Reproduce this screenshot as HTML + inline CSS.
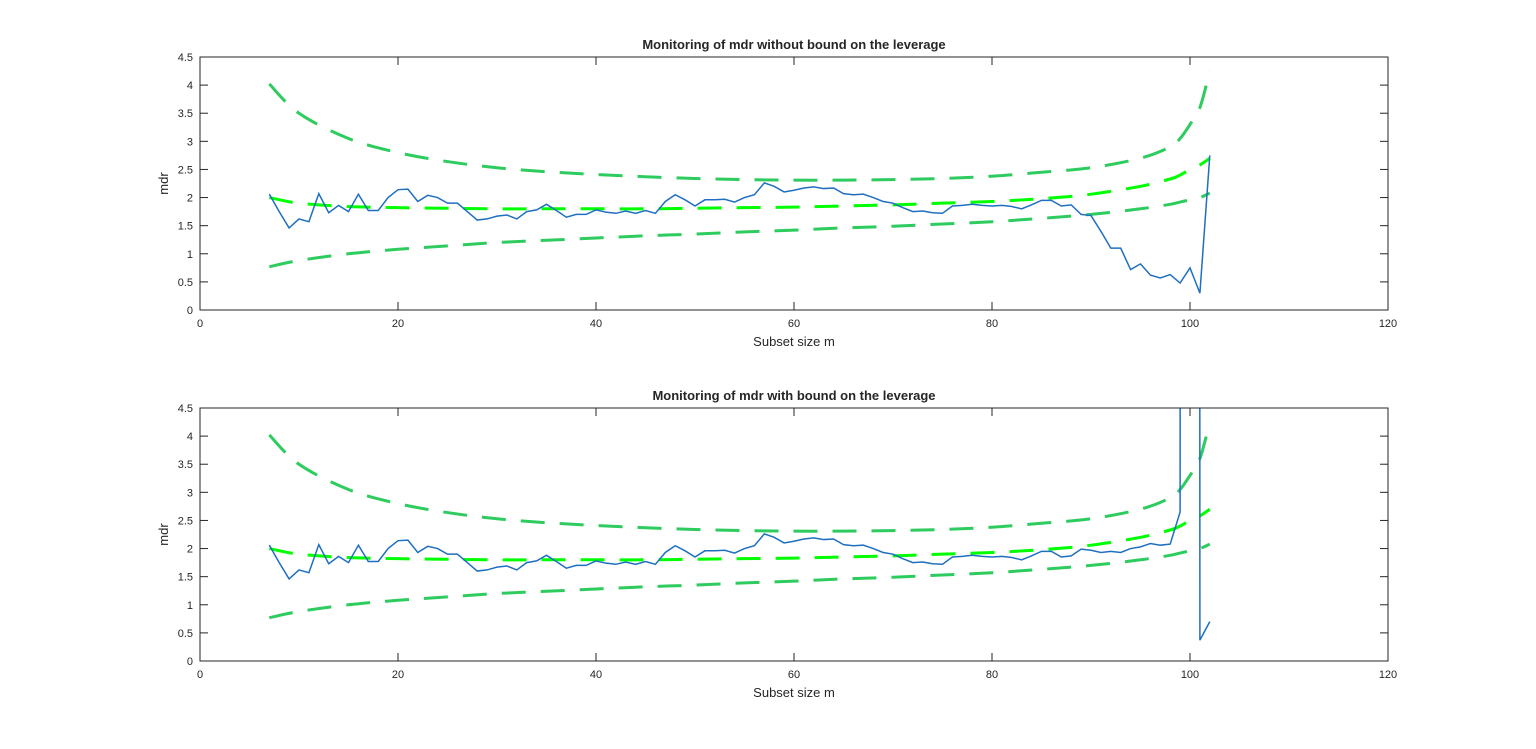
<!DOCTYPE html>
<html><head><meta charset="utf-8"><style>
body{margin:0;background:#fff;font-family:"Liberation Sans",Arial,sans-serif}
svg text{font-family:"Liberation Sans",Arial,sans-serif}
</style></head><body>
<svg id="fig" width="1536" height="744" xmlns="http://www.w3.org/2000/svg"></svg>
<script>
// Data
const mVals = [7,8,9,10,11,12,13,14,15,16,17,18,19,20,21,22,23,24,25,26,27,28,29,30,31,32,33,34,35,36,37,38,39,40,41,42,43,44,45,46,47,48,49,50,51,52,53,54,55,56,57,58,59,60,61,62,63,64,65,66,67,68,69,70,71,72,73,74,75,76,77,78,79,80,81,82,83,84,85,86,87,88,89,90,91,92,93,94,95,96,97,98,99,100,101,102];
const mdrTop = [2.06,1.75,1.46,1.62,1.57,2.07,1.73,1.86,1.75,2.06,1.77,1.77,2.0,2.14,2.15,1.93,2.04,2.0,1.9,1.9,1.75,1.6,1.62,1.67,1.69,1.62,1.75,1.78,1.88,1.77,1.65,1.7,1.7,1.78,1.74,1.72,1.76,1.72,1.77,1.72,1.93,2.05,1.96,1.85,1.96,1.96,1.97,1.92,2.0,2.05,2.26,2.2,2.1,2.13,2.17,2.19,2.16,2.17,2.07,2.05,2.06,2.0,1.93,1.9,1.82,1.75,1.76,1.73,1.72,1.85,1.86,1.88,1.86,1.85,1.86,1.84,1.8,1.87,1.95,1.95,1.85,1.87,1.7,1.68,1.4,1.1,1.1,0.72,0.82,0.62,0.57,0.63,0.48,0.75,0.3,2.75];
const mdrBottom = [2.06,1.75,1.46,1.62,1.57,2.07,1.73,1.86,1.75,2.06,1.77,1.77,2.0,2.14,2.15,1.93,2.04,2.0,1.9,1.9,1.75,1.6,1.62,1.67,1.69,1.62,1.75,1.78,1.88,1.77,1.65,1.7,1.7,1.78,1.74,1.72,1.76,1.72,1.77,1.72,1.93,2.05,1.96,1.85,1.96,1.96,1.97,1.92,2.0,2.05,2.26,2.2,2.1,2.13,2.17,2.19,2.16,2.17,2.07,2.05,2.06,2.0,1.93,1.9,1.82,1.75,1.76,1.73,1.72,1.85,1.86,1.88,1.86,1.85,1.86,1.84,1.8,1.87,1.95,1.95,1.85,1.87,1.99,1.97,1.93,1.95,1.93,2.0,2.03,2.09,2.06,2.08,2.65,500,0.37,0.7];
const bandM = [7,10,15,20,25,30,35,40,45,50,55,60,65,70,75,80,85,90,95,98,99,100,101,102];
const bandUpper = [4.02,3.5,3.05,2.8,2.64,2.53,2.46,2.41,2.37,2.34,2.32,2.31,2.31,2.32,2.34,2.38,2.45,2.53,2.7,2.9,3.05,3.3,3.6,4.25];
const bandMid = [2.0,1.9,1.84,1.82,1.81,1.8,1.8,1.8,1.8,1.81,1.82,1.83,1.85,1.87,1.9,1.93,1.98,2.06,2.2,2.33,2.4,2.5,2.58,2.7];
const bandLower = [0.77,0.88,1.0,1.08,1.14,1.2,1.24,1.28,1.32,1.35,1.39,1.42,1.46,1.49,1.53,1.57,1.63,1.7,1.8,1.88,1.92,1.96,2.0,2.08];
const xTicks = [0,20,40,60,80,100,120];
const yTicks = [0,0.5,1,1.5,2,2.5,3,3.5,4,4.5];

const NS="http://www.w3.org/2000/svg";
const fig=document.getElementById('fig');
function mk(tag,attrs,parent){const e=document.createElementNS(NS,tag);for(const k in attrs)e.setAttribute(k,attrs[k]);(parent||fig).appendChild(e);return e;}

function smoothPath(xs,ys){
  let d=`M${xs[0]},${ys[0]}`;
  for(let i=0;i<xs.length-1;i++){
    const x0=xs[Math.max(i-1,0)],y0=ys[Math.max(i-1,0)],x1=xs[i],y1=ys[i],x2=xs[i+1],y2=ys[i+1],x3=xs[Math.min(i+2,xs.length-1)],y3=ys[Math.min(i+2,xs.length-1)];
    d+=` C${x1+(x2-x0)/6},${y1+(y2-y0)/6} ${x2-(x3-x1)/6},${y2-(y3-y1)/6} ${x2},${y2}`;
  }
  return d;
}

function panel(top,title,series,key){
  const L=200,R=1388,T=top,B=top+253;
  const xS=v=>L+(v-0)/120*(R-L);
  const yS=v=>B-(v/4.5)*(B-T);
  const g=mk('g',{});
  
  
  const clipId='clip-'+key;
  const cp=mk('clipPath',{id:clipId},g);
  mk('rect',{x:L,y:T,width:R-L,height:B-T},cp);
  const plot=mk('g',{'clip-path':`url(#${clipId})`},g);
  const bands=[[bandUpper,'#2ecc5f'],[bandLower,'#2ecc5f'],[bandMid,'#00ff00']];
  bands.forEach((b,i)=>{
    const p=mk('path',{d:smoothPath(bandM.map(xS),b[0].map(yS)),fill:'none',stroke:b[1],'stroke-width':3,'stroke-dasharray':'24,15'},plot);
    
    
  });
  const ln=mk('polyline',{points:mVals.map((m,i)=>xS(m)+','+yS(series[i])).join(' '),fill:'none',stroke:'#1f6fc0','stroke-width':1.5},plot);
  
  
  const box=mk('rect',{x:L,y:T,width:R-L,height:B-T,fill:'none',stroke:'#262626','stroke-width':1},g);
  
  
  xTicks.forEach(t=>{
    const x=xS(t);
    mk('line',{x1:x,x2:x,y1:B,y2:B-8,stroke:'#262626'},g);
    mk('line',{x1:x,x2:x,y1:T,y2:T+8,stroke:'#262626'},g);
    const tx=mk('text',{x:x,y:B+17,'font-size':11,'text-anchor':'middle',fill:'#262626'},g);
    tx.textContent=t;
    
    
  });
  yTicks.forEach(t=>{
    const y=yS(t);
    mk('line',{x1:L,x2:L+8,y1:y,y2:y,stroke:'#262626'},g);
    mk('line',{x1:R,x2:R-8,y1:y,y2:y,stroke:'#262626'},g);
    const tx=mk('text',{x:L-7,y:y+4,'font-size':11,'text-anchor':'end',fill:'#262626'},g);
    tx.textContent=t;
    
    
  });
  const tt=mk('text',{x:(L+R)/2,y:T-8,'font-size':13,'font-weight':'bold','text-anchor':'middle',fill:'#262626'},g);
  tt.textContent=title;
  
  
  const xl=mk('text',{x:(L+R)/2,y:B+36,'font-size':13,'text-anchor':'middle',fill:'#262626'},g);
  xl.textContent='Subset size m';
  
  
  const yl=mk('text',{x:0,y:0,'font-size':13,'text-anchor':'middle',fill:'#262626',transform:`translate(168,${(T+B)/2}) rotate(-90)`},g);
  yl.textContent='mdr';
  
  
}
panel(57,'Monitoring of mdr without bound on the leverage',mdrTop,'top');
panel(408,'Monitoring of mdr with bound on the leverage',mdrBottom,'bottom');
</script>
</body></html>
